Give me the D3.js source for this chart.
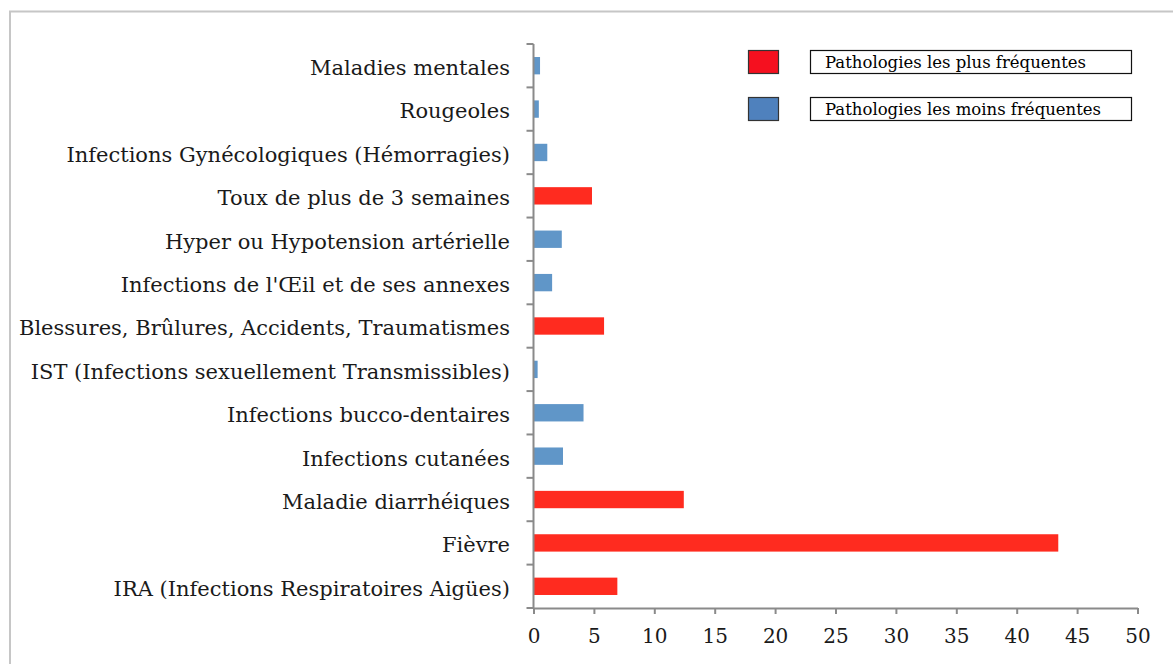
<!DOCTYPE html>
<html>
<head>
<meta charset="utf-8">
<script src="https://cdn.jsdelivr.net/npm/d3@7"></script>
<style>
  body { margin: 0; background: #fff; }
  svg text { font-family: "DejaVu Serif", serif; }
</style>
</head>
<body>
<svg width="1173" height="664"></svg>
<script>
// categories top to bottom
var categories = [
  "Maladies mentales",
  "Rougeoles",
  "Infections Gynécologiques (Hémorragies)",
  "Toux de plus de 3 semaines",
  "Hyper ou Hypotension artérielle",
  "Infections de l'Œil et de ses annexes",
  "Blessures, Brûlures, Accidents, Traumatismes",
  "IST (Infections sexuellement Transmissibles)",
  "Infections bucco-dentaires",
  "Infections cutanées",
  "Maladie diarrhéiques",
  "Fièvre",
  "IRA (Infections Respiratoires Aigües)"
];
var values = [0.5, 0.4, 1.1, 4.8, 2.3, 1.5, 5.8, 0.3, 4.1, 2.4, 12.4, 43.4, 6.9];
var groups = ["moins", "moins", "moins", "plus", "moins", "moins", "plus", "moins", "moins", "moins", "plus", "plus", "plus"];
var xTicks = [0, 5, 10, 15, 20, 25, 30, 35, 40, 45, 50];
var legendLabels = ["Pathologies les plus fréquentes", "Pathologies les moins fréquentes"];

var barColor = { plus: "#ff2b1f", moins: "#6096c8" };
var swatchColor = { plus: "#f5101f", moins: "#4f81bd" };

var svg = d3.select("svg");

// outer frame
svg.append("path")
  .attr("d", "M10,664 V11.5 H1173")
  .attr("fill", "none")
  .attr("stroke", "#c6c6c6")
  .attr("stroke-width", 2);

var plotLeft = 533.5, plotRight = 1137.5, plotTop = 44, plotBottom = 608;

var x = d3.scaleLinear().domain([0, 50]).range([plotLeft, plotRight]);
var y = d3.scaleBand().domain(categories).range([plotTop, plotBottom]).paddingInner(0.6).paddingOuter(0.3);

var axisColor = "#8a8a8a";
var g = svg.append("g");

// bars
g.selectAll("rect.bar")
  .data(categories)
  .enter().append("rect")
  .attr("class", "bar")
  .attr("x", x(0) + 0.5)
  .attr("y", function(d) { return y(d); })
  .attr("width", function(d, i) { return x(values[i]) - x(0); })
  .attr("height", y.bandwidth())
  .attr("fill", function(d, i) { return barColor[groups[i]]; });

// x axis
var xAxis = g.append("g")
  .attr("transform", "translate(0," + plotBottom + ")")
  .call(d3.axisBottom(x).tickValues(xTicks).tickSize(6).tickPadding(15).tickSizeOuter(0));
xAxis.select(".domain").attr("stroke", axisColor).attr("stroke-width", 2);
xAxis.selectAll(".tick line").attr("stroke", axisColor).attr("stroke-width", 2);
xAxis.selectAll(".tick text")
  .attr("fill", "#1a1a1a")
  .style("font-size", "20px");

// y axis: line, boundary ticks, labels
var step = y.step();
var boundaries = d3.range(categories.length + 1).map(function(i) { return plotTop + i * step; });
g.append("line")
  .attr("x1", plotLeft).attr("x2", plotLeft)
  .attr("y1", plotTop).attr("y2", plotBottom)
  .attr("stroke", axisColor).attr("stroke-width", 2);
g.selectAll("line.ytick")
  .data(boundaries)
  .enter().append("line")
  .attr("class", "ytick")
  .attr("x1", plotLeft - 7).attr("x2", plotLeft)
  .attr("y1", function(d) { return d; }).attr("y2", function(d) { return d; })
  .attr("stroke", axisColor).attr("stroke-width", 2);
g.selectAll("text.ylabel")
  .data(categories)
  .enter().append("text")
  .attr("class", "ylabel")
  .attr("x", 510)
  .attr("y", function(d) { return y(d) + y.bandwidth() / 2 + 2; })
  .attr("dy", "0.35em")
  .attr("text-anchor", "end")
  .attr("fill", "#1a1a1a")
  .style("font-size", "21px")
  .text(function(d) { return d; });

// legend
var legendKeys = ["plus", "moins"];
var legendY = [50, 97];
var lg = svg.append("g");
legendKeys.forEach(function(k, i) {
  lg.append("rect")
    .attr("x", 748.5).attr("y", legendY[i] + 0.5)
    .attr("width", 30).attr("height", 23)
    .attr("fill", swatchColor[k])
    .attr("stroke", "#333").attr("stroke-width", 1.2);
  lg.append("rect")
    .attr("x", 810.5).attr("y", legendY[i] + 0.5)
    .attr("width", 321).attr("height", 23)
    .attr("fill", "#fff")
    .attr("stroke", "#111").attr("stroke-width", 1.2);
  lg.append("text")
    .attr("x", 825).attr("y", legendY[i] + 12)
    .attr("dy", "0.35em")
    .attr("fill", "#000")
    .style("font-size", "16.5px")
    .text(legendLabels[i]);
});
</script>
</body>
</html>
